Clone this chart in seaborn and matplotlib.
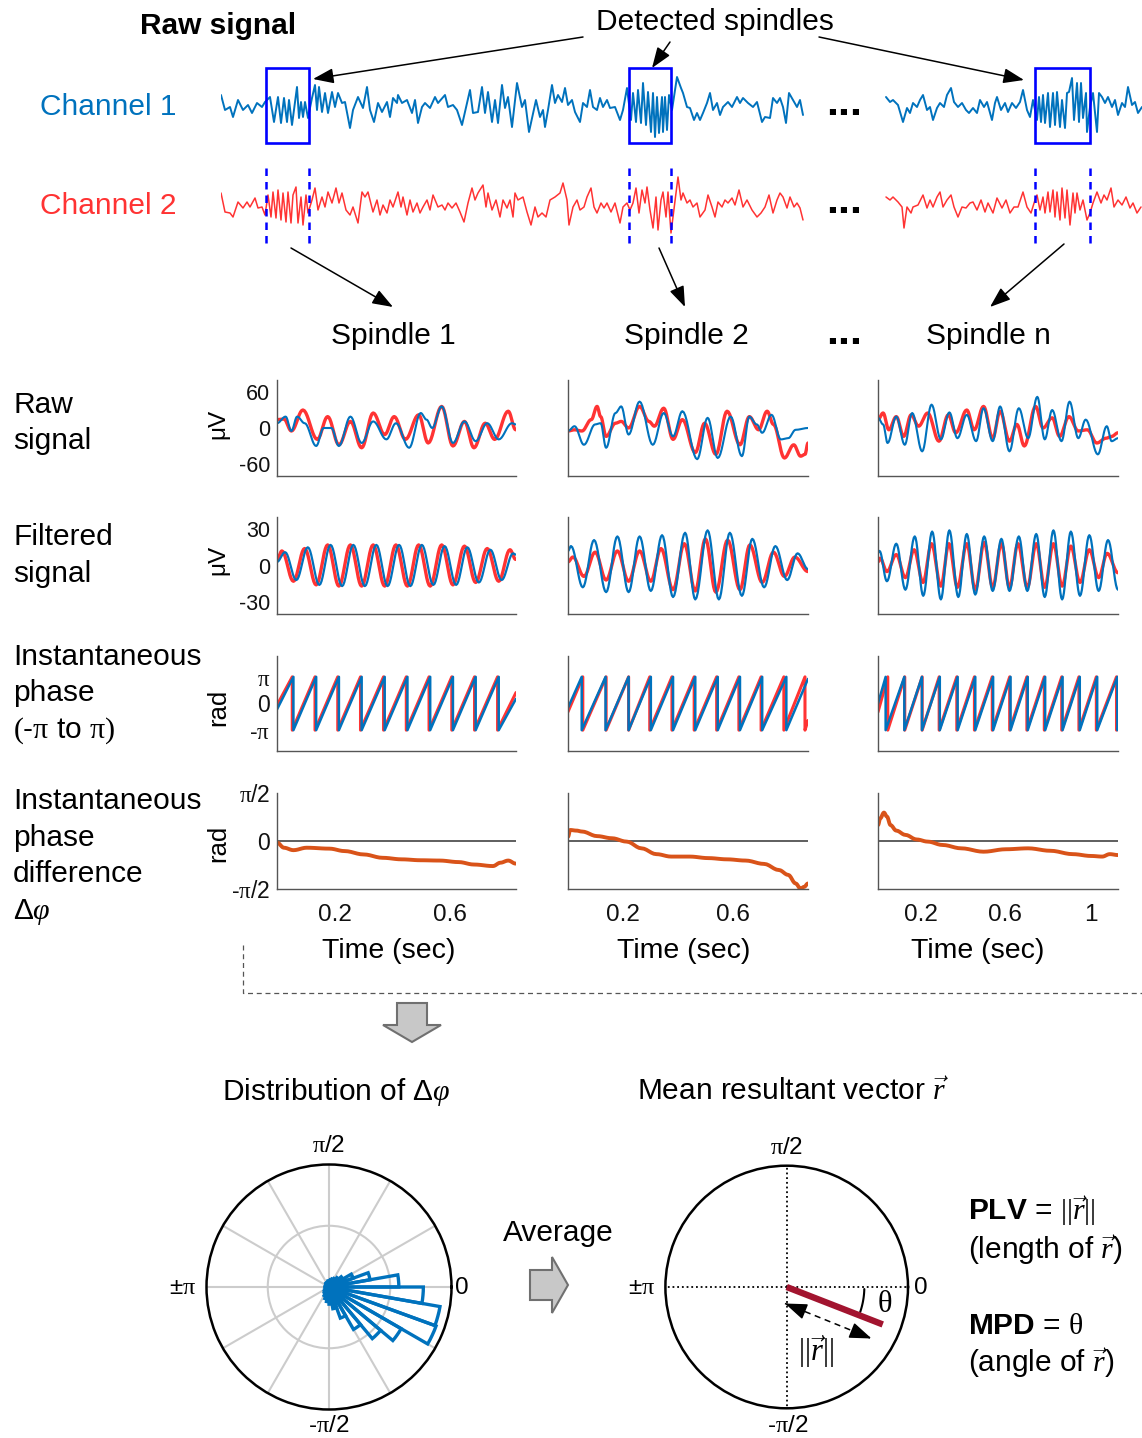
import numpy as np
import matplotlib
matplotlib.use("Agg")
import matplotlib.pyplot as plt
import seaborn as sns
from matplotlib.patches import Rectangle, Polygon

# ---------------- DATA ----------------
# long recordings (time index, amplitude in uV); two segments separated by "..."
ch1_A = [(0,10),(4,-5),(9,-2),(12,-12),(17,5),(22,-5),(27,0),(31,-8),(36,2),(41,-2),(44,3),(49,8),(53,-17),(57,8),(60,-18),(63,7),(66,-17),(68,5),(71,-20),(76,18),(78,-13),(80,3),(82,-12),(84,3),(87,-13),(91,7),(94,20),(96,-5),(98,18),(101,-7),(104,12),(107,-8),(111,13),(114,-2),(117,12),(121,2),(124,3),(129,-23),(132,-5),(137,8),(142,-3),(146,18),(149,-5),(153,-17),(157,2),(161,-7),(166,3),(169,-12),(172,7),(176,2),(177,10),(181,2),(186,5),(191,-8),(194,5),(197,-18),(201,-2),(204,2),(209,-3),(214,8),(217,2),(224,10),(227,-2),(232,0),(236,-5),(241,-20),(246,2),(249,15),(252,-8),(257,-7),(261,18),(264,-8),(267,13),(271,-17),(274,5),(277,-18),(281,20),(284,-3),(287,8),(291,-22),(296,22),(301,-2),(304,5),(308,-27),(315,5),(319,-12),(322,-5),(324,-22),(327,-5),(331,20),(334,2),(337,10),(341,3),(344,17),(347,0),(351,5),(354,-7),(359,-17),(362,2),(366,-2),(369,15),(372,-2),(376,-5),(379,7),(382,-2),(386,5),(389,-3),(394,-2),(399,-15),(402,-5),(406,17),(410,-15),(412,12),(415,-17),(417,15),(420,-18),(422,22),(425,-20),(427,13),(430,-27),(432,12),(434,-32),(436,8),(438,-28),(441,8),(442,-27),(444,8),(446,-25),(448,10),(451,-5),(456,28),(460,17),(462,12),(466,-2),(469,-3),(473,-15),(476,-8),(479,-15),(482,-8),(486,2),(489,12),(492,-5),(496,2),(499,-10),(502,-2),(507,3),(511,-2),(516,8),(519,2),(522,7),(527,2),(532,-2),(536,3),(541,-17),(544,-12),(549,-13),(552,7),(556,2),(559,7),(562,-2),(565,-18),(568,12),(572,5),(576,-2),(579,5),(582,-10)]
ch1_B = [(665,8),(669,3),(672,5),(677,0),(682,-17),(686,-3),(689,-8),(692,2),(696,-2),(699,5),(702,10),(706,-5),(709,-2),(712,-15),(716,-3),(719,2),(723,-2),(726,10),(730,17),(733,3),(737,-2),(741,2),(745,-5),(748,-8),(752,-3),(756,-8),(759,5),(763,-2),(766,3),(771,-15),(774,2),(776,8),(780,-5),(784,2),(787,-7),(791,2),(795,-3),(799,3),(802,15),(806,-5),(809,-12),(812,5),(816,-15),(818,8),(820,-17),(822,10),(824,-18),(827,12),(829,-22),(832,12),(834,-20),(836,13),(839,-22),(841,5),(844,-23),(846,12),(848,13),(851,27),(853,-15),(856,22),(858,-17),(860,22),(862,-13),(865,12),(866,-27),(869,-2),(872,12),(876,-27),(878,12),(881,8),(884,2),(887,8),(891,-2),(894,5),(897,-10),(901,2),(904,-2),(907,18),(911,0),(914,3),(917,-8),(921,-2)]
ch2_A = [(0,12),(4,-7),(9,-8),(12,-12),(17,3),(22,-3),(26,3),(29,-2),(34,7),(37,-3),(41,-2),(44,-10),(47,10),(50,-12),(52,13),(55,-13),(57,15),(60,-15),(62,12),(65,-17),(67,13),(70,-18),(72,10),(75,18),(77,-18),(80,8),(82,-20),(85,10),(87,-8),(91,5),(94,17),(97,-5),(101,8),(104,-2),(107,13),(111,2),(115,17),(118,2),(121,12),(125,-5),(129,-10),(132,-2),(137,-18),(141,13),(144,8),(147,13),(152,-7),(156,5),(159,-10),(162,0),(166,-8),(169,5),(172,-2),(177,13),(180,-2),(182,8),(186,-10),(189,5),(192,-7),(196,2),(199,-8),(202,-2),(206,5),(209,-5),(212,10),(217,-2),(221,0),(224,-5),(227,2),(231,-3),(235,2),(239,-7),(243,-17),(247,2),(251,17),(254,5),(257,12),(262,20),(265,-2),(267,12),(271,-5),(275,5),(279,-12),(282,5),(286,-3),(289,5),(292,-12),(294,12),(297,5),(302,8),(306,-7),(310,-20),(314,-2),(317,-12),(321,-8),(325,-12),(329,5),(334,8),(339,12),(342,22),(346,5),(348,-20),(352,-2),(356,5),(359,-5),(363,-2),(366,8),(370,17),(373,-2),(376,-8),(380,2),(383,-3),(386,2),(390,-7),(394,2),(399,-18),(402,-2),(406,2),(409,-5),(412,2),(415,17),(418,-8),(421,15),(424,2),(426,18),(429,-5),(432,-23),(435,8),(437,-25),(440,5),(442,13),(445,-12),(447,13),(450,-28),(452,-12),(457,28),(460,5),(462,12),(466,2),(469,5),(472,-2),(476,2),(479,-12),(484,-5),(487,10),(491,-2),(494,-12),(497,3),(501,-2),(504,5),(507,2),(511,7),(514,0),(518,15),(522,-2),(526,5),(531,-5),(536,-12),(540,-8),(544,-2),(548,10),(552,-8),(556,5),(559,12),(562,8),(566,-3),(569,8),(573,-2),(576,2),(579,-3),(582,-15)]
ch2_B = [(665,8),(669,5),(672,8),(677,3),(681,-2),(683,-23),(686,-2),(690,-8),(692,-2),(697,0),(702,10),(706,-3),(709,5),(712,-2),(716,8),(719,13),(722,-2),(726,5),(730,10),(733,-2),(737,-12),(741,-2),(745,-3),(749,2),(752,3),(756,-5),(760,5),(764,-7),(767,2),(772,-8),(776,7),(781,-3),(785,5),(789,-8),(793,-2),(797,-2),(802,13),(806,-2),(810,-8),(814,5),(816,10),(819,-5),(822,8),(824,-8),(827,13),(829,-7),(832,15),(834,-12),(836,13),(839,-15),(841,17),(844,-13),(846,15),(849,-20),(852,12),(854,-8),(856,12),(859,-5),(862,5),(866,-15),(869,-8),(872,2),(876,13),(880,2),(883,10),(886,5),(890,17),(893,-2),(897,5),(901,0),(905,8),(909,-3),(912,2),(916,-8),(920,-2)]
spindle_start = [45, 408, 814]
spindle_end = [88, 450, 869]

# spindle epochs: (time s, uV) turning points
raw_red = [
 [(0,14),(0.024,15),(0.050,-5),(0.090,30),(0.140,-19),(0.176,19),(0.215,-28),(0.255,11),(0.294,-33),(0.334,25),(0.374,-11),(0.407,19),(0.446,-19),(0.492,22),(0.525,-25),(0.572,36),(0.611,-30),(0.651,11),(0.684,-33),(0.723,8),(0.756,-19),(0.803,28),(0.829,-3)],
 [(0,-5),(0.024,-3),(0.051,-5),(0.085,14),(0.106,36),(0.119,19),(0.139,-14),(0.173,8),(0.194,11),(0.221,0),(0.261,36),(0.295,11),(0.315,3),(0.349,33),(0.383,-19),(0.417,14),(0.464,-41),(0.498,8),(0.539,-44),(0.580,28),(0.627,-28),(0.661,19),(0.695,-3),(0.726,28),(0.749,6),(0.789,-50),(0.823,-28),(0.848,-47),(0.864,-44),(0.875,-25)],
 [(0,14),(0.024,25),(0.051,-3),(0.086,19),(0.121,-14),(0.156,22),(0.191,3),(0.234,25),(0.287,-22),(0.331,22),(0.366,-8),(0.418,30),(0.453,-3),(0.497,36),(0.540,-17),(0.575,28),(0.619,-22),(0.654,6),(0.689,-30),(0.742,36),(0.777,0),(0.820,17),(0.855,-14),(0.899,19),(0.943,-5),(0.986,-3),(1.030,-25),(1.074,-17),(1.100,-14),(1.130,-8)]]
raw_blue = [
 [(0,8),(0.030,19),(0.050,-5),(0.070,19),(0.096,8),(0.136,-30),(0.162,0),(0.189,0),(0.215,-30),(0.255,19),(0.294,-25),(0.334,11),(0.380,-19),(0.413,8),(0.459,-33),(0.499,25),(0.519,14),(0.539,0),(0.572,36),(0.611,-25),(0.651,11),(0.690,-22),(0.730,8),(0.770,-19),(0.816,8),(0.829,6)],
 [(0,-5),(0.024,3),(0.058,-28),(0.099,6),(0.119,8),(0.139,-33),(0.173,25),(0.194,36),(0.221,-11),(0.261,44),(0.309,-28),(0.349,25),(0.383,-14),(0.417,28),(0.471,-52),(0.509,17),(0.546,-50),(0.593,19),(0.634,-47),(0.661,19),(0.688,6),(0.708,-8),(0.742,22),(0.776,-19),(0.803,-17),(0.830,-3),(0.875,0)],
 [(0,17),(0.024,6),(0.045,-25),(0.086,19),(0.126,-28),(0.161,25),(0.208,-39),(0.252,39),(0.296,-19),(0.336,26),(0.374,-17),(0.418,22),(0.462,-22),(0.497,33),(0.540,-22),(0.575,36),(0.619,-39),(0.663,33),(0.707,-17),(0.750,52),(0.785,-19),(0.820,30),(0.864,-22),(0.902,44),(0.943,-17),(0.978,14),(1.035,-44),(1.077,3),(1.100,-22),(1.130,-17)]]
filt_red = [
 [(0,5),(0.017,12),(0.057,-13),(0.096,14),(0.136,-16),(0.176,17),(0.215,-17),(0.255,17),(0.294,-17),(0.334,17),(0.374,-17),(0.413,17),(0.453,-17),(0.492,17),(0.532,-17),(0.572,17),(0.611,-16),(0.651,16),(0.690,-14),(0.730,14),(0.770,-13),(0.809,13),(0.829,5)],
 [(0,3),(0.018,7),(0.058,-9),(0.099,11),(0.139,-12),(0.180,12),(0.221,-13),(0.261,12),(0.302,-13),(0.339,14),(0.383,-20),(0.424,18),(0.464,-21),(0.501,22),(0.539,-22),(0.582,21),(0.627,-20),(0.663,17),(0.708,-14),(0.749,11),(0.789,-9),(0.827,7),(0.875,-5)],
 [(0,3),(0.010,6),(0.042,-5),(0.086,9),(0.129,-10),(0.170,13),(0.212,-14),(0.252,18),(0.296,-17),(0.334,18),(0.374,-18),(0.418,18),(0.458,-20),(0.500,19),(0.540,-18),(0.581,18),(0.619,-18),(0.659,18),(0.703,-18),(0.745,18),(0.785,-18),(0.826,18),(0.867,-17),(0.908,16),(0.951,-14),(0.995,13),(1.039,-10),(1.079,10),(1.130,-6)]]
filt_blue = [
 [(0,3),(0.028,11),(0.067,-12),(0.107,15),(0.147,-16),(0.186,17),(0.226,-17),(0.265,17),(0.305,-17),(0.345,17),(0.384,-17),(0.424,17),(0.463,-17),(0.503,17),(0.543,-16),(0.582,16),(0.622,-16),(0.661,15),(0.701,-14),(0.741,13),(0.780,-12),(0.820,10),(0.829,9)],
 [(0,12),(0.011,16),(0.054,-18),(0.095,21),(0.139,-22),(0.180,24),(0.221,-22),(0.261,24),(0.302,-21),(0.343,25),(0.383,-26),(0.427,27),(0.464,-28),(0.509,29),(0.550,-28),(0.590,27),(0.634,-25),(0.672,22),(0.715,-18),(0.756,16),(0.799,-12),(0.837,10),(0.875,-3)],
 [(0,11),(0.007,12),(0.042,-13),(0.086,18),(0.129,-20),(0.173,24),(0.213,-25),(0.255,28),(0.296,-28),(0.336,29),(0.378,-26),(0.418,26),(0.458,-24),(0.500,24),(0.540,-21),(0.581,22),(0.619,-21),(0.663,24),(0.703,-21),(0.745,26),(0.785,-26),(0.826,29),(0.867,-28),(0.908,28),(0.951,-25),(0.995,25),(1.039,-21),(1.083,21),(1.130,-20)]]
# instantaneous phase: start value, wrap times (pi -> -pi), end value
phase_red = [
 (-0.2, [0.053,0.132,0.211,0.290,0.370,0.449,0.528,0.607,0.686,0.766], 1.29),
 (-0.98, [0.054,0.139,0.221,0.298,0.379,0.460,0.542,0.623,0.704,0.787,0.864], -2.0),
 (-1.0, [0.046,0.126,0.208,0.288,0.371,0.454,0.538,0.620,0.701,0.783,0.865,0.946,1.028,1.123], -2.6)]
phase_blue = [
 (-0.7, [0.057,0.136,0.215,0.294,0.374,0.453,0.532,0.611,0.690,0.770], 0.55),
 (-0.5, [0.050,0.137,0.221,0.302,0.383,0.464,0.546,0.627,0.708,0.796], 2.9),
 (0.0, [0.036,0.124,0.207,0.291,0.375,0.458,0.542,0.624,0.705,0.787,0.869,0.950,1.032,1.127], -3.0)]
# instantaneous phase difference (rad)
pdiff = [
 [(0,-0.05),(0.024,-0.22),(0.057,-0.30),(0.103,-0.22),(0.182,-0.25),(0.235,-0.33),(0.301,-0.44),(0.367,-0.55),(0.433,-0.60),(0.499,-0.63),(0.565,-0.64),(0.631,-0.69),(0.684,-0.77),(0.750,-0.82),(0.776,-0.71),(0.803,-0.64),(0.829,-0.74)],
 [(0,0.14),(0.008,0.36),(0.031,0.34),(0.051,0.31),(0.106,0.16),(0.160,0.09),(0.214,-0.02),(0.268,-0.24),(0.322,-0.43),(0.376,-0.51),(0.444,-0.51),(0.512,-0.56),(0.580,-0.60),(0.647,-0.64),(0.715,-0.75),(0.769,-0.95),(0.803,-1.11),(0.830,-1.39),(0.848,-1.56),(0.861,-1.50),(0.875,-1.39)],
 [(0,0.52),(0.0105,0.74),(0.028,0.93),(0.042,0.80),(0.059,0.52),(0.086,0.34),(0.129,0.20),(0.182,0.05),(0.234,-0.02),(0.304,-0.13),(0.392,-0.24),(0.497,-0.35),(0.602,-0.27),(0.707,-0.24),(0.812,-0.32),(0.917,-0.43),(1.004,-0.49),(1.056,-0.51),(1.091,-0.43),(1.130,-0.46)]]
epoch_len = [0.83, 0.875, 1.13]
time_ticks = [[0.2, 0.6], [0.2, 0.6], [0.2, 0.6, 1.0]]
time_ticklabels = [["0.2", "0.6"], ["0.2", "0.6"], ["0.2", "0.6", "1"]]
spindle_titles = ["Spindle 1", "Spindle 2", "Spindle n"]

# rose histogram of delta-phi (bin centres in degrees, normalised counts)
rose_deg = [-175,-165,-155,-145,-135,-125,-115,-105,-95,-85,-75,-65,-55,-45,-35,-25,-15,-5,5,15,25,35,45,55,65,75,85,95,105,115,125,135,145,155,165,175]
rose_val = [0.03,0.03,0.03,0.04,0.05,0.06,0.08,0.10,0.12,0.14,0.18,0.27,0.40,0.55,0.68,0.93,0.92,0.77,0.57,0.34,0.21,0.13,0.10,0.08,0.07,0.06,0.05,0.05,0.04,0.04,0.04,0.03,0.03,0.03,0.03,0.03]
mrv_angle_deg = -21.3
mrv_length = 0.85

# ---------------- STYLE ----------------
sns.set_style("white")
plt.rcParams["font.family"] = ["Liberation Sans", "DejaVu Sans"]
plt.rcParams["mathtext.fontset"] = "custom"
plt.rcParams["mathtext.rm"] = "Liberation Serif"
plt.rcParams["mathtext.it"] = "Liberation Serif:italic"
plt.rcParams["mathtext.bf"] = "Liberation Serif:bold"
plt.rcParams["mathtext.sf"] = "Liberation Sans:bold"
plt.rcParams["text.color"] = "black"

BLUE = "#0072BD"
RED = "#FF3333"
ORANGE = "#D95319"
DARKRED = "#A2142F"
BOXBLUE = "#0000FF"
AX = "#555555"
FS = 21.5

W, H = 1142, 1438
fig = plt.figure(figsize=(W / 100, H / 100), dpi=100)


def R(x0, y0, x1, y1):
    return [x0 / W, 1 - y1 / H, (x1 - x0) / W, (y1 - y0) / H]


def smooth(pts, n=10):
    t = [p[0] for p in pts]
    v = [p[1] for p in pts]
    xs, ys = [t[0]], [v[0]]
    s = np.linspace(0, 1, n + 1)[1:]
    for i in range(len(t) - 1):
        xs.extend(t[i] + (t[i + 1] - t[i]) * s)
        ys.extend(v[i] + (v[i + 1] - v[i]) * (1 - np.cos(np.pi * s)) / 2)
    return np.array(xs), np.array(ys)


def sawtooth(spec, T):
    start, wraps, end = spec
    xs, ys = [0.0], [start]
    for w in wraps:
        xs += [w, w]
        ys += [np.pi, -np.pi]
    xs.append(T)
    ys.append(end)
    return np.array(xs), np.array(ys)


def line(ax, x, y, color, lw, **kw):
    sns.lineplot(x=x, y=y, ax=ax, color=color, linewidth=lw, sort=False,
                 estimator=None, **kw)


# overlay axes in pixel coordinates for text and annotations
ov = fig.add_axes([0, 0, 1, 1], zorder=10)
ov.set_xlim(0, W)
ov.set_ylim(H, 0)
ov.axis("off")


def T(x, y, s, size=FS, ha="center", va="center", **kw):
    ov.text(x, y, s, fontsize=size, ha=ha, va=va, color=kw.pop("color", "black"), **kw)


def arrow(start, tip, scale=14):
    ov.annotate("", xy=tip, xytext=start,
                arrowprops=dict(arrowstyle="-|>,head_length=0.9,head_width=0.33",
                                color="k", lw=1.1, shrinkA=0, shrinkB=0,
                                mutation_scale=scale))


# ---------------- TOP: long recordings ----------------
ax1 = fig.add_axes(R(221, 60, 1142, 150))
ax2 = fig.add_axes(R(221, 160, 1142, 250))
for ax in (ax1, ax2):
    ax.set_xlim(0, 921)
    ax.set_ylim(-45, 45)
    ax.axis("off")
for seg in (ch1_A, ch1_B):
    line(ax1, [p[0] for p in seg], [p[1] for p in seg], BLUE, 1.4)
for seg in (ch2_A, ch2_B):
    line(ax2, [p[0] for p in seg], [p[1] for p in seg], RED, 1.1)
for s0, s1 in zip(spindle_start, spindle_end):
    ax1.add_patch(Rectangle((s0, -38), s1 - s0, 75, fill=False, ec=BOXBLUE,
                            lw=1.9, clip_on=False, zorder=5))
    ax2.vlines([s0, s1], -38, 38, colors=BOXBLUE, linestyles=(0, (3, 2.4)),
               lw=1.8, zorder=5)

T(218, 26, "Raw signal", weight="bold")
T(715, 22, "Detected spindles")
T(40, 107, "Channel 1", ha="left", color=BLUE)
T(40, 206, "Channel 2", ha="left", color=RED)
for y in (104, 202, 333):
    T(844, y, "...", size=31, weight="bold")
arrow((583, 37), (313, 79))
arrow((670, 42), (652, 68))
arrow((819, 37), (1024, 80))
arrow((291, 248), (393, 307))
arrow((659, 248), (685, 307))
arrow((1064, 244), (990, 307))

# ---------------- SPINDLE PANELS ----------------
cols_px = [(277, 516), (568, 808), (878, 1118)]
rows_px = [(380, 476), (517, 614), (656, 751), (793, 889)]
ylims = [(-80, 80), (-40, 40), (-5.6, 5.6), (-np.pi / 2, np.pi / 2)]
yticks = [[-60, 0, 60], [-30, 0, 30], [-np.pi, 0, np.pi], [-np.pi / 2, 0, np.pi / 2]]
yticklabels = [["-60", "0", "60"], ["-30", "0", "30"],
               [r"-$\mathrm{\pi}$", "0", r"$\mathrm{\pi}$"],
               [r"-$\mathrm{\pi}$/2", "0", r"$\mathrm{\pi}$/2"]]
ytick_fs = [15.5, 15.5, 16.5, 16.5]

for c in range(3):
    x0, x1 = cols_px[c]
    Tl = epoch_len[c]
    for r in range(4):
        y0, y1 = rows_px[r]
        ax = fig.add_axes(R(x0, y0, x1, y1))
        if r == 0:
            line(ax, *smooth(raw_red[c]), RED, 2.4)
            line(ax, *smooth(raw_blue[c]), BLUE, 1.5)
        elif r == 1:
            line(ax, *smooth(filt_red[c]), RED, 2.4)
            line(ax, *smooth(filt_blue[c]), BLUE, 1.6)
        elif r == 2:
            line(ax, *sawtooth(phase_red[c], Tl), RED, 2.2)
            line(ax, *sawtooth(phase_blue[c], Tl), BLUE, 1.8)
        else:
            ax.axhline(0, color="#333333", lw=1.1, zorder=1)
            line(ax, *smooth(pdiff[c], 6), ORANGE, 2.8)
        ax.set_xlim(0, Tl)
        ax.set_ylim(*ylims[r])
        for sp in ("top", "right"):
            ax.spines[sp].set_visible(False)
        for sp in ("left", "bottom"):
            ax.spines[sp].set_color(AX)
            ax.spines[sp].set_linewidth(1.0)
        ax.set_yticks(yticks[r])
        if c == 0:
            ax.set_yticklabels(yticklabels[r])
        else:
            ax.set_yticklabels([])
        if r == 3:
            ax.set_xticks(time_ticks[c])
            ax.set_xticklabels(time_ticklabels[c])
        else:
            ax.set_xticks([])
        ax.tick_params(axis="y", direction="in", length=4, width=1, color=AX,
                       labelsize=ytick_fs[r], pad=5, labelcolor="#111111")
        ax.tick_params(axis="x", direction="in", length=4, width=1, color=AX,
                       labelsize=17.5, pad=11, labelcolor="#111111")
        ax.set_xlabel("")
        ax.set_ylabel("")
        ax.patch.set_alpha(0)

for xc, s in zip((393, 686, 988), spindle_titles):
    T(xc, 336, s)
for xc in (389, 684, 978):
    T(xc, 951, "Time (sec)", size=20.5)

# y labels and row labels
T(218, 424, "μV", size=17.5, rotation=90)
T(218, 560, "μV", size=17.5, rotation=90)
T(218, 707, "rad", size=18.5, rotation=90)
T(218, 843, "rad", size=18.5, rotation=90)
row_lines = [("Raw", 405), ("signal", 441), ("Filtered", 537), ("signal", 574),
             ("Instantaneous", 657), ("phase", 693),
             (r"$\mathrm{(}$-$\mathrm{\pi}$ to $\mathrm{\pi)}$", 731),
             ("Instantaneous", 801), ("phase", 838), ("difference", 874),
             (r"Δ$\varphi$", 912)]
for s, y in row_lines:
    T(13, y, s, ha="left")

# dashed bracket and down arrow
ov.plot([243, 243, 1142], [945, 993, 993], color="#555555", lw=0.9,
        ls=(0, (4, 3)))
ov.add_patch(Polygon([(397, 1003), (427, 1003), (427, 1025), (441, 1025),
                      (412, 1042), (383, 1025), (397, 1025)], closed=True,
                     fc="#C8C8C8", ec="#707070", lw=1.5))

# ---------------- ROSE PLOT ----------------
T(336, 1092, r"Distribution of Δ$\varphi$")
axL = fig.add_axes(R(206.5, 1164.5, 451.5, 1409.5), projection="polar")
axL.bar(np.deg2rad(rose_deg), rose_val, width=np.deg2rad(10), bottom=0,
        fill=False, edgecolor=BLUE, linewidth=2.4, align="center", zorder=3)
axL.set_thetagrids(np.arange(0, 360, 30), labels=[""] * 12)
axL.set_rgrids([0.5], labels=[""])
axL.set_ylim(0, 1)
axL.grid(True, color="#CCCCCC", lw=1.5)
axL.spines["polar"].set_color("k")
axL.spines["polar"].set_linewidth(1.8)
T(329, 1146, r"$\mathrm{\pi}$/2", size=17.5)
T(462, 1288, "0", size=17.5)
T(183, 1288, r"±$\mathrm{\pi}$", size=17.5)
T(329, 1426, r"-$\mathrm{\pi}$/2", size=17.5)

# average arrow
T(558, 1233, "Average")
ov.add_patch(Polygon([(530, 1270), (552, 1270), (552, 1257), (568, 1285),
                      (552, 1313), (552, 1300), (530, 1300)], closed=True,
                     fc="#C8C8C8", ec="#707070", lw=1.5))

# ---------------- MEAN RESULTANT VECTOR ----------------
T(793, 1092, r"Mean resultant vector $\vec{r}$")
cx, cy, rad = 786.7, 1287, 121.3
axR = fig.add_axes(R(cx - rad, cy - rad, cx + rad, cy + rad), projection="polar")
axR.set_thetagrids([0, 90, 180, 270], labels=[""] * 4)
axR.set_yticks([])
axR.set_ylim(0, 1)
axR.xaxis.grid(True, color="k", ls=(0, (1, 1.6)), lw=1.3)
axR.yaxis.grid(False)
axR.spines["polar"].set_color("k")
axR.spines["polar"].set_linewidth(1.8)
th = np.deg2rad(mrv_angle_deg)
axR.plot([th, th], [0, mrv_length], color=DARKRED, lw=4.6,
         solid_capstyle="butt", zorder=4)
arc = np.deg2rad(np.linspace(-1.5, mrv_angle_deg + 2.5, 30))
axR.plot(arc, np.full_like(arc, 0.64), color="k", lw=1.5)
axR.set_ylim(0, 1)

# double headed dashed arrow (length)
A = (785, 1303.5)
B = (871.5, 1338.5)
ov.plot([A[0], B[0]], [A[1], B[1]], color="k", lw=1.1, ls=(0, (4, 3)))
dx, dy = B[0] - A[0], B[1] - A[1]
arrow((A[0] + 0.2 * dx, A[1] + 0.2 * dy), A, 15)
arrow((A[0] + 0.8 * dx, A[1] + 0.8 * dy), B, 15)
T(885, 1304, r"$\mathrm{\theta}$", size=22)
NORM = r"$\mathrm{||}\vec{r}\mathrm{||}$"
T(816, 1352, NORM, size=22)
T(787, 1148, r"$\mathrm{\pi}$/2", size=17.5)
T(921, 1288, "0", size=17.5)
T(642, 1288, r"±$\mathrm{\pi}$", size=17.5)
T(788, 1426, r"-$\mathrm{\pi}$/2", size=17.5)

T(968, 1211, r"$\mathsf{PLV}$ = " + NORM, ha="left")
T(968, 1250, r"(length of $\vec{r}$)", ha="left")
T(968, 1326, r"$\mathsf{MPD}$ = $\mathrm{\theta}$", ha="left")
T(968, 1363, r"(angle of $\vec{r}$)", ha="left")

fig.savefig("out.png", dpi=100)
